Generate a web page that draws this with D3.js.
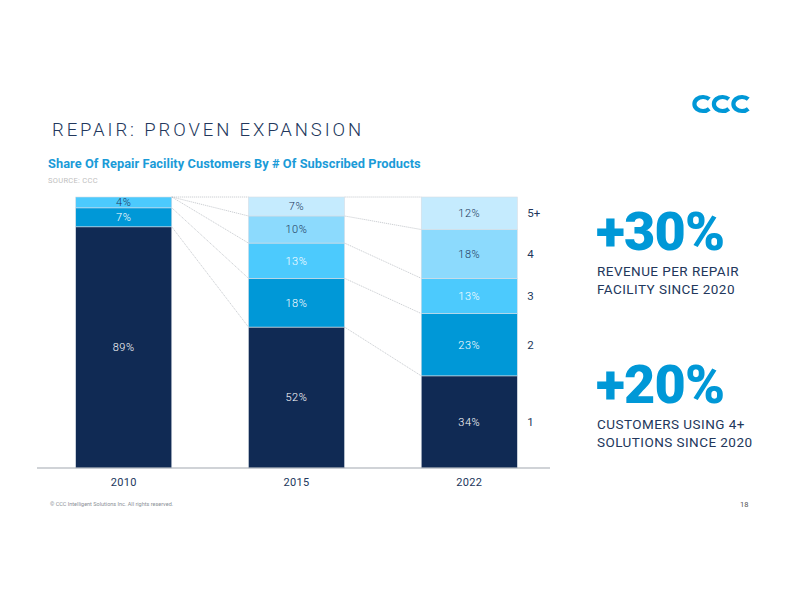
<!DOCTYPE html>
<html><head><meta charset="utf-8">
<script src="https://cdn.jsdelivr.net/npm/d3@7"></script>
<style>
html,body{margin:0;padding:0;background:#fff;}
svg{display:block;}
</style></head>
<body>
<svg id="chart" width="792" height="612"></svg>
<script>
// ---- data ----
const years = ["2010", "2015", "2022"];
const seriesNames = ["1", "2", "3", "4", "5+"];
const s1 = [89, 52, 34];
const s2 = [7, 18, 23];
const s3 = [4, 13, 13];
const s4 = [0, 10, 18];
const s5 = [0, 7, 12];

const title = "REPAIR: PROVEN EXPANSION";
const subtitle = "Share Of Repair Facility Customers By # Of Subscribed Products";
const source = "SOURCE: CCC";
const kpiValues = ["+30%", "+20%"];
const kpiLines = [["REVENUE PER REPAIR", "FACILITY SINCE 2020"], ["CUSTOMERS USING 4+", "SOLUTIONS SINCE 2020"]];
const footer = "\u00A9 CCC Intelligent Solutions Inc. All rights reserved.";
const pageNum = "18";

// ---- setup ----
const svg = d3.select("#chart");
const colors = ["#102a54", "#0098d7", "#4ccafd", "#8cdafd", "#c5ebfe"];
const navy = "#22375c";
const font = "Roboto, 'Open Sans', sans-serif";

const rows = years.map((y, i) => ({year: y, "1": s1[i], "2": s2[i], "3": s3[i], "4": s4[i], "5+": s5[i]}));
const stacked = d3.stack().keys(seriesNames)(rows);

const x = d3.scaleBand().domain(years).range([37, 556]).paddingInner(0.444).paddingOuter(0.224);
const y = d3.scaleLinear().domain([0, 100]).range([468, 197]);
const bw = x.bandwidth();

// title block
svg.append("text").attr("x", 52).attr("y", 136).text(title)
  .attr("font-family", font).attr("font-weight", 300).attr("font-size", 18.5)
  .attr("letter-spacing", 2.9).attr("fill", navy);
svg.append("text").attr("x", 48).attr("y", 168).text(subtitle)
  .attr("font-family", font).attr("font-weight", 700).attr("font-size", 12.8)
  .attr("fill", "#1a9bd8").attr("letter-spacing", 0.06);
svg.append("text").attr("x", 48).attr("y", 183).text(source)
  .attr("font-family", font).attr("font-size", 7.5).attr("fill", "#c0c0c0").attr("letter-spacing", 0.3);

// connectors
const gConn = svg.append("g");
stacked.forEach(layer => {
  for (let i = 0; i < years.length - 1; i++) {
    gConn.append("line")
      .attr("x1", x(years[i]) + bw).attr("y1", y(layer[i][1]))
      .attr("x2", x(years[i + 1])).attr("y2", y(layer[i + 1][1]))
      .attr("stroke", "#a9aeb6").attr("stroke-width", 0.6).attr("stroke-dasharray", "1.2,0.8");
  }
});

// bars
const gBars = svg.append("g");
stacked.forEach((layer, k) => {
  gBars.selectAll(null).data(layer.filter(d => d[1] - d[0] > 0)).enter().append("rect")
    .attr("x", d => x(d.data.year)).attr("width", bw)
    .attr("y", d => y(d[1])).attr("height", d => y(d[0]) - y(d[1]))
    .attr("fill", colors[k]).attr("stroke", "#d6dce4").attr("stroke-width", 0.6);
});

// segment labels
stacked.forEach((layer, k) => {
  gBars.selectAll(null).data(layer.filter(d => d[1] - d[0] > 0)).enter().append("text")
    .attr("x", d => x(d.data.year) + bw / 2)
    .attr("y", d => (y(d[0]) + y(d[1])) / 2)
    .attr("dy", "0.35em").attr("text-anchor", "middle")
    .attr("font-family", font).attr("font-weight", 300).attr("font-size", 11).attr("letter-spacing", 0.6)
    .attr("fill", d => (k >= 3 || (d[1] - d[0]) < 5) ? navy : "#ffffff")
    .text(d => (d[1] - d[0]) + "%");
});

// axis
const axis = svg.append("g").attr("transform", `translate(0,${y(0)})`)
  .call(d3.axisBottom(x).tickSize(0).tickPadding(10));
axis.select(".domain").attr("d", "M37,0H550").attr("stroke", "#a2a7af").attr("stroke-width", 1.2);
axis.selectAll("text").attr("font-family", font).attr("font-size", 11).attr("fill", navy).attr("letter-spacing", 0.3);

// series labels right of last bar
const last = years.length - 1;
stacked.forEach((layer, k) => {
  const d = layer[last];
  svg.append("text").attr("x", x(years[last]) + bw + 10)
    .attr("y", (y(d[0]) + y(d[1])) / 2).attr("dy", "0.35em")
    .attr("font-family", font).attr("font-size", 11.5).attr("fill", navy)
    .text(seriesNames[k]);
});

// KPIs
kpiValues.forEach((v, i) => {
  const top = 250 + i * 153;
  svg.append("text").attr("x", 596).attr("y", top).text(v)
    .attr("font-family", font).attr("font-weight", 900).attr("font-size", 54)
    .attr("letter-spacing", -0.8).attr("fill", "#0098d7");
  kpiLines[i].forEach((ln, j) => {
    svg.append("text").attr("x", 597).attr("y", top + 26 + j * 18).text(ln)
      .attr("font-family", font).attr("font-size", 13.5).attr("letter-spacing", 0.45).attr("fill", navy);
  });
});

// logo (three linked c's)
const logo = svg.append("g").attr("transform", "translate(703,104)");
[0, 19.5, 39].forEach(cx => {
  const rx = 8.6, ry = 7;
  const a0 = -Math.PI * 0.24, a1 = Math.PI * 0.24;
  logo.append("path")
    .attr("d", `M${cx + rx * Math.cos(a0)},${ry * Math.sin(a0)} A${rx},${ry} 0 1 0 ${cx + rx * Math.cos(a1)},${ry * Math.sin(a1)}`)
    .attr("fill", "none").attr("stroke", "#0098d7").attr("stroke-width", 4.2).attr("stroke-linecap", "butt");
});

// footer
svg.append("text").attr("x", 50).attr("y", 506).text(footer)
  .attr("font-family", font).attr("font-size", 5.5).attr("fill", "#8a8f96");
svg.append("text").attr("x", 740).attr("y", 507).text(pageNum)
  .attr("font-family", font).attr("font-size", 7.5).attr("fill", "#555");
</script>
</body></html>
